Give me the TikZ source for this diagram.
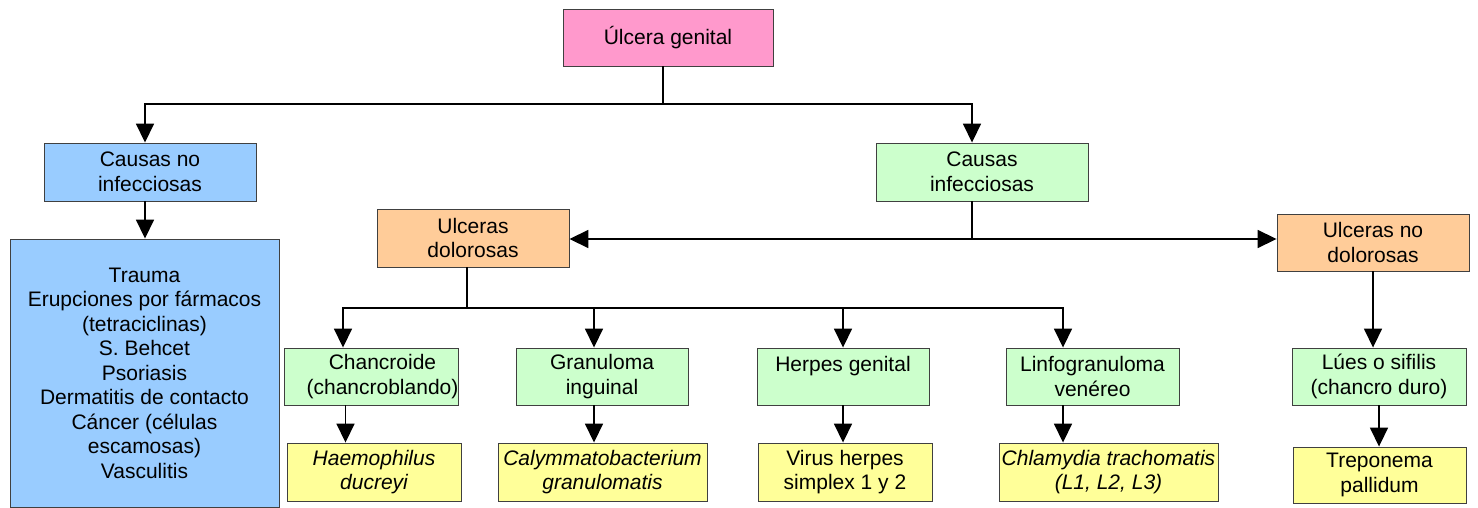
\documentclass[tikz,border=0pt]{standalone}
\usepackage{fontspec}
\setmainfont{Liberation Sans}
\usetikzlibrary{arrows.meta}
\definecolor{cpink}{HTML}{FF99CC}
\definecolor{cblue}{HTML}{99CCFF}
\definecolor{cgreen}{HTML}{CCFFCC}
\definecolor{corange}{HTML}{FFCC99}
\definecolor{cyellow}{HTML}{FFFF99}
\definecolor{cedge}{HTML}{404040}
\tikzset{
  box/.style={draw=cedge, line width=0.9pt, inner sep=0pt, align=center,
    font=\fontsize{21}{24.5}\selectfont},
  sz/.style 2 args={minimum width=#1, minimum height=#2},
  ln/.style={line width=1.7pt, black},
  arr/.style={ln, -{Triangle[length=19pt,width=18pt]}},
}
\begin{document}
\begin{tikzpicture}[x=1pt,y=-1pt]
\useasboundingbox (0,0) rectangle (1478,508);

% root and first split
\node[box, fill=cpink,  sz={210pt}{57pt}] (ulc) at (668,37.5) {Úlcera genital};
\node[box, fill=cblue,  sz={212pt}{58pt}] (cni) at (150,172) {Causas no\\infecciosas};
\node[box, fill=cgreen, sz={212pt}{58pt}] (ci)  at (982,172) {Causas\\infecciosas};

% non-infectious causes
\node[box, fill=cblue, sz={269pt}{268pt}] (big) at (144.5,373)
  {Trauma\\Erupciones por fármacos\\(tetraciclinas)\\S. Behcet\\Psoriasis\\Dermatitis de contacto\\Cáncer (células\\escamosas)\\Vasculitis};

% painful / painless ulcers
\node[box, fill=corange, sz={192pt}{58pt}] (ud)  at (473,238)    {Ulceras\\dolorosas};
\node[box, fill=corange, sz={192pt}{57pt}] (und) at (1373,242.5) {Ulceras no\\dolorosas};

% diseases
\node[box, fill=cgreen, sz={174pt}{57pt}] (ch) at (371.5,376.5) {\hspace*{22pt}Chancroide\\\hspace*{22pt}(chancroblando)};
\node[box, fill=cgreen, sz={172pt}{57pt}] (gi) at (602,376.5)   {Granuloma\\inguinal};
\node[box, fill=cgreen, sz={172pt}{57pt}] (hg) at (843,376.5)   {Herpes genital\\\mbox{}};
\node[box, fill=cgreen, sz={173pt}{57pt}] (lv) at (1092.5,376.5){Linfogranuloma\\venéreo};
\node[box, fill=cgreen, sz={174pt}{57pt}] (lu) at (1379,376.5)  {Lúes o sifilis\\(chancro duro)};

% agents
\node[box, fill=cyellow, sz={174pt}{58pt}] (hd) at (374,472)    {\itshape Haemophilus\\\itshape ducreyi};
\node[box, fill=cyellow, sz={209pt}{58pt}] (cg) at (602.5,472)  {\itshape Calymmatobacterium\\\itshape granulomatis};
\node[box, fill=cyellow, sz={174pt}{58pt}] (vh) at (845,472)    {Virus herpes\\simplex 1 y 2};
\node[box, fill=cyellow, sz={219pt}{58pt}] (ct) at (1108.5,472) {\itshape Chlamydia trachomatis\\\itshape (L1, L2, L3)};
\node[box, fill=cyellow, sz={173pt}{56pt}] (tp) at (1379.5,475) {Treponema\\pallidum};

% connectors: root split
\coordinate (h1) at (663,104);
\draw[ln] (ulc.south -| h1) -- (h1);
\draw[arr] (h1) -| ([xshift=-5pt]cni.north);
\draw[arr] (h1) -| ([xshift=-10pt]ci.north);
\draw[arr] ([xshift=-5pt]cni.south) -- ([xshift=-5pt]cni.south |- big.north);

% connectors: infectious split
\coordinate (h2) at (972,239);
\draw[ln] (ci.south -| h2) -- (h2);
\draw[arr] (h2) -- (ud.east |- h2);
\draw[arr] (h2) -- (und.west |- h2);

% connectors: painful ulcers
\coordinate (h3) at (467,308);
\draw[ln] (ud.south -| h3) -- (h3);
\draw[arr] (h3) -| ([xshift=-28.5pt]ch.north);
\draw[arr] (h3) -| ([xshift=-8pt]gi.north);
\draw[arr] (h3) -| (hg.north);
\draw[arr] (h3) -| ([xshift=-29.5pt]lv.north);

% connectors: disease to agent
\draw[arr] ([xshift=-26pt]ch.south) -- ([xshift=-26pt]ch.south |- hd.north);
\draw[arr] ([xshift=-8pt]gi.south) -- ([xshift=-8pt]gi.south |- cg.north);
\draw[arr] (hg.south) -- (hg.south |- vh.north);
\draw[arr] ([xshift=-29.5pt]lv.south) -- ([xshift=-29.5pt]lv.south |- ct.north);
\draw[arr] (und.south) -- (und.south |- lu.north);
\draw[arr] (lu.south) -- (lu.south |- tp.north);
\end{tikzpicture}
\end{document}
